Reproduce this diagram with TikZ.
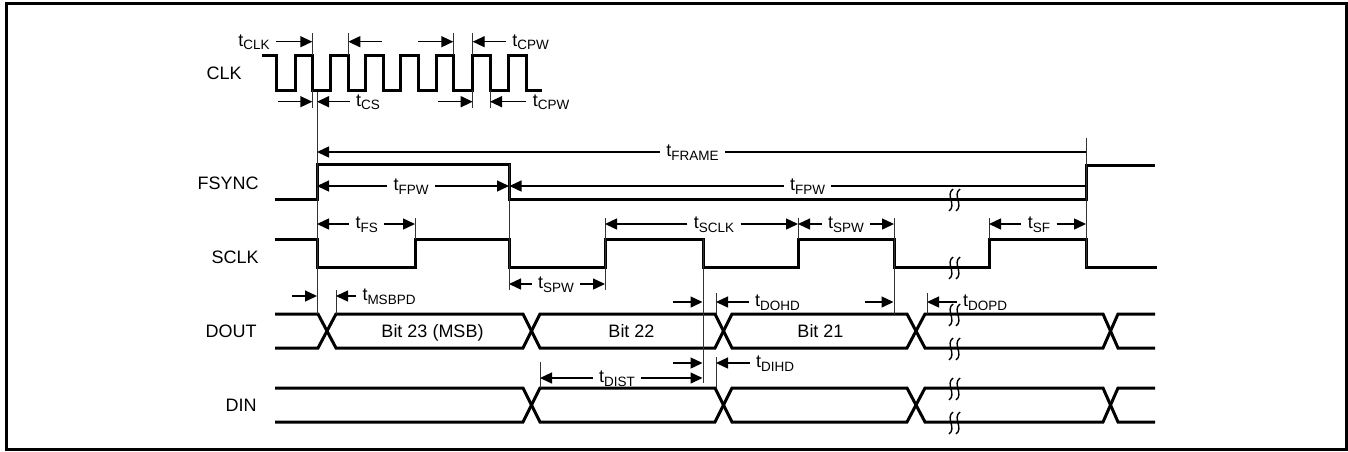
\documentclass[tikz,border=0pt]{standalone}
\usepackage{fontspec}
\setmainfont{Liberation Sans}
\usetikzlibrary{arrows.meta}
\newcommand{\tsb}[1]{t\raisebox{-1.6pt}{\fontsize{6.75}{7}\selectfont #1}}
\begin{document}
\begin{tikzpicture}[x=0.5pt,y=-0.5pt,
  sig/.style={line width=1.5pt, line join=miter, line cap=butt},
  dim/.style={line width=0.7pt},
  dimar/.style={line width=0.7pt, -{Triangle[length=6pt,width=5.5pt]}},
  tick/.style={line width=0.5pt, black!80},
  lbl/.style={font=\fontsize{9}{10}\selectfont, inner xsep=3pt, inner ysep=0pt, text height=6.5pt, text depth=1.6pt},
  sname/.style={font=\fontsize{9}{10}\selectfont, anchor=base east, inner sep=0pt},
  bitl/.style={font=\fontsize{9}{10}\selectfont, anchor=base, inner sep=0pt},
  brk/.style={line width=0.7pt}
]
\useasboundingbox (0,0) rectangle (1348,451);
\draw[line width=1.5pt] (6.5,3.7) rectangle (1346.5,449.5);

% signal names
\node[sname] (nclk) at (242,79) {CLK};
\node[sname] (nfs) at (259,189.5) {FSYNC};
\node[sname] (nsclk) at (259,263.5) {SCLK};
\node[sname] (ndout) at (257,337.5) {DOUT};
\node[sname] (ndin) at (257,411.5) {DIN};

% CLK
\draw[sig] (262,55) -- (276.7,55) -- (276.7,90) -- (295,90) -- (295,55) -- (312.3,55) -- (312.3,90) -- (330,90) -- (330,55) -- (348.3,55) -- (348.3,90) -- (365,90) -- (365,55) -- (383.3,55) -- (383.3,90) -- (400,90) -- (400,55) -- (418.3,55) -- (418.3,90) -- (436.7,90) -- (436.7,55) -- (453.3,55) -- (453.3,90) -- (472.7,90) -- (472.7,55) -- (490,55) -- (490,90) -- (508.3,90) -- (508.3,55) -- (526.7,55) -- (526.7,90) -- (541.7,90);

% FSYNC
\draw[sig] (275,199) -- (317,199) -- (317,164) -- (509,164) -- (509,199) -- (1086,199) -- (1086,165) -- (1155,165);
% SCLK
\draw[sig] (275,239) -- (317,239) -- (317,267) -- (415,267) -- (415,239) -- (509,239) -- (509,267) -- (605,267) -- (605,239) -- (703,239) -- (703,267) -- (798,267) -- (798,239) -- (894,239) -- (894,267) -- (989,267) -- (989,239) -- (1086,239) -- (1086,267) -- (1157,267);
% DOUT
\draw[sig] (275,314) -- (318,314) -- (336,348) -- (523,348) -- (540,314) -- (715,314) -- (732,348) -- (907,348) -- (925,314) -- (1103,314) -- (1118,348) -- (1155,348);
\draw[sig] (275,348) -- (318,348) -- (336,314) -- (523,314) -- (540,348) -- (715,348) -- (732,314) -- (907,314) -- (925,348) -- (1103,348) -- (1118,314) -- (1155,314);
% DIN
\draw[sig] (275,388) -- (523,388) -- (540,422) -- (715,422) -- (732,388) -- (907,388) -- (925,422) -- (1103,422) -- (1118,388) -- (1155,388);
\draw[sig] (275,422) -- (523,422) -- (540,388) -- (715,388) -- (732,422) -- (907,422) -- (925,388) -- (1103,388) -- (1118,422) -- (1155,422);

% bit labels
\node[bitl] (b23) at (432.5,337.5) {Bit 23 (MSB)};
\node[bitl] (b22) at (631.5,337.5) {Bit 22};
\node[bitl] (b21) at (820.5,337.5) {Bit 21};

% break marks
\foreach \yy in {200,268,315,349,389,423} {
  \foreach \xx in {951,958} {
    \draw[brk] ({\xx+2},{\yy-11}) .. controls ({\xx-6},{\yy-5}) and ({\xx+6},{\yy+5}) .. ({\xx-2},{\yy+11});
  }
}

% ticks (extension lines)
\draw[tick] (312.3,33) -- (312.3,55);
\draw[tick] (348.3,33) -- (348.3,55);
\draw[tick] (453.3,33) -- (453.3,55);
\draw[tick] (472.7,33) -- (472.7,55);
\draw[tick] (312.3,90) -- (312.3,108);
\draw[tick] (472.7,90) -- (472.7,108);
\draw[tick] (490,90) -- (490,108);
\draw[tick] (317,92) -- (317,314);
\draw[tick] (509,164) -- (509,290);
\draw[tick] (415,218) -- (415,239);
\draw[tick] (605,218) -- (605,290);
\draw[tick] (703,239) -- (703,383);
\draw[tick] (798,218) -- (798,239);
\draw[tick] (894,218) -- (894,314);
\draw[tick] (989,218) -- (989,239);
\draw[tick] (1086,138) -- (1086,267);
\draw[tick] (336,290) -- (336,314);
\draw[tick] (716,293) -- (716,314);
\draw[tick] (927,293) -- (927,314);
\draw[tick] (716,357) -- (716,388);
\draw[tick] (540,362) -- (540,388);

% CLK timing
\node[lbl] (lclk) at (254,41.7) {\tsb{CLK}};
\draw[dimar] (lclk.east) -- (312.3,41.7);
\coordinate (c1a) at (382,41.7); \coordinate (c1b) at (348.3,41.7);
\draw[dimar] (c1a) -- (c1b);
\coordinate (c2a) at (418,41.7); \coordinate (c2b) at (453.3,41.7);
\draw[dimar] (c2a) -- (c2b);
\node[lbl] (lcpw1) at (530.5,41.7) {\tsb{CPW}};
\draw[dimar] (lcpw1.west) -- (472.7,41.7);
\coordinate (c3a) at (278,101.7); \coordinate (c3b) at (312.3,101.7);
\draw[dimar] (c3a) -- (c3b);
\node[lbl] (lcs) at (368,101.7) {\tsb{CS}};
\draw[dimar] (lcs.west) -- (317,101.7);
\coordinate (c4a) at (438,101.7); \coordinate (c4b) at (472.7,101.7);
\draw[dimar] (c4a) -- (c4b);
\node[lbl] (lcpw2) at (551,101.7) {\tsb{CPW}};
\draw[dimar] (lcpw2.west) -- (490,101.7);

% FSYNC timing
\node[lbl] (lframe) at (692.5,152) {\tsb{FRAME}};
\draw[dimar] (lframe.west) -- (317,152);
\draw[dim] (lframe.east) -- (1086,152);
\node[lbl] (lfpw1) at (411,186) {\tsb{FPW}};
\draw[dimar] (lfpw1.west) -- (317,186);
\draw[dimar] (lfpw1.east) -- (509,186);
\node[lbl] (lfpw2) at (807.5,186) {\tsb{FPW}};
\draw[dimar] (lfpw2.west) -- (509.5,186);
\draw[dim] (lfpw2.east) -- (1086,186);

% SCLK timing
\node[lbl] (lfs) at (366.7,224) {\tsb{FS}};
\draw[dimar] (lfs.west) -- (317,224);
\draw[dimar] (lfs.east) -- (415,224);
\node[lbl] (lsclk) at (714,224) {\tsb{SCLK}};
\draw[dimar] (lsclk.west) -- (605,224);
\draw[dimar] (lsclk.east) -- (798,224);
\node[lbl] (lspw2) at (846,224) {\tsb{SPW}};
\draw[dimar] (lspw2.west) -- (798,224);
\draw[dimar] (lspw2.east) -- (894,224);
\node[lbl] (lsf) at (1039,224) {\tsb{SF}};
\draw[dimar] (lsf.west) -- (989,224);
\draw[dimar] (lsf.east) -- (1086,224);
\node[lbl] (lspw1) at (556,284) {\tsb{SPW}};
\draw[dimar] (lspw1.west) -- (509,284);
\draw[dimar] (lspw1.east) -- (605,284);

% DOUT timing
\coordinate (c5a) at (292,296); \coordinate (c5b) at (317,296);
\draw[dimar] (c5a) -- (c5b);
\node[lbl] (lmsb) at (389,296) {\tsb{MSBPD}};
\draw[dimar] (lmsb.west) -- (336,296);
\coordinate (c6a) at (673,302); \coordinate (c6b) at (702.5,302);
\draw[dimar] (c6a) -- (c6b);
\node[lbl] (ldohd) at (777.5,302) {\tsb{DOHD}};
\draw[dimar] (ldohd.west) -- (716,302);
\coordinate (c7a) at (865,302); \coordinate (c7b) at (893.5,302);
\draw[dimar] (c7a) -- (c7b);
\node[lbl] (ldopd) at (985,302) {\tsb{DOPD}};
\draw[dimar] (ldopd.west) -- (927,302);

% DIN timing
\coordinate (c8a) at (673,363); \coordinate (c8b) at (702.5,363);
\draw[dimar] (c8a) -- (c8b);
\node[lbl] (ldihd) at (775,363) {\tsb{DIHD}};
\draw[dimar] (ldihd.west) -- (716,363);
\node[lbl] (ldist) at (617,378) {\tsb{DIST}};
\draw[dimar] (ldist.west) -- (540,378);
\draw[dimar] (ldist.east) -- (702.5,378);
\end{tikzpicture}
\end{document}
